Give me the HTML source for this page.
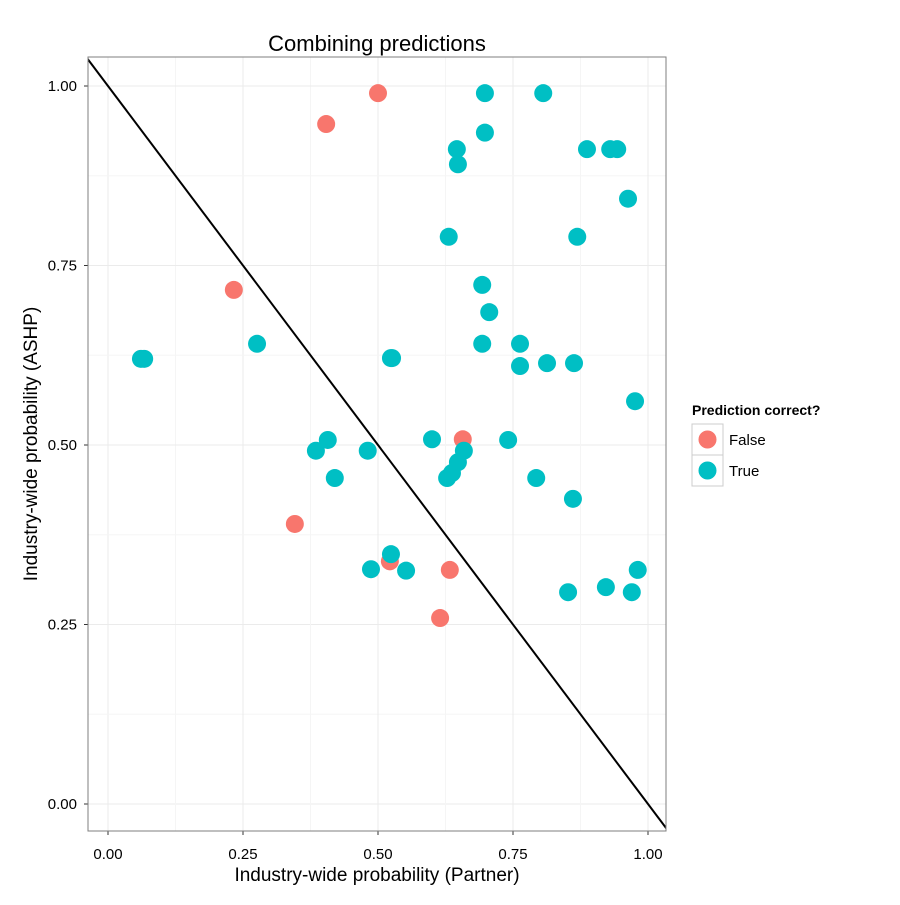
<!DOCTYPE html>
<html><head><meta charset="utf-8"><style>
body{margin:0;background:#fff;}
svg{font-family:"Liberation Sans",Arial,sans-serif;}
</style></head><body>
<svg id="chart" width="900" height="900"></svg>
<script>
const falseX=[0.50,0.404,0.233,0.346,0.522,0.633,0.615,0.657];
const falseY=[0.99,0.947,0.716,0.390,0.338,0.326,0.259,0.508];
const trueX=[0.061,0.067,0.276,0.526,0.524,0.407,0.385,0.420,0.481,0.487,0.524,0.552,0.600,0.628,0.637,0.648,0.659,0.698,0.806,0.698,0.646,0.648,0.887,0.930,0.943,0.963,0.631,0.869,0.693,0.706,0.693,0.763,0.763,0.813,0.863,0.976,0.741,0.793,0.861,0.852,0.922,0.970,0.981];
const trueY=[0.620,0.620,0.641,0.621,0.621,0.507,0.492,0.454,0.492,0.327,0.348,0.325,0.508,0.454,0.461,0.476,0.492,0.990,0.990,0.935,0.912,0.891,0.912,0.912,0.912,0.843,0.790,0.790,0.723,0.685,0.641,0.641,0.610,0.614,0.614,0.561,0.507,0.454,0.425,0.295,0.302,0.295,0.326];
const ticks=[0,0.25,0.5,0.75,1];
const tickLabels=["0.00","0.25","0.50","0.75","1.00"];
const L=88,R=666,T=57,B=831;
const sx=v=>108+v*540, sy=v=>804-v*718;
const ns="http://www.w3.org/2000/svg", svg=document.getElementById('chart');
function mk(tag,attrs,parent){const e=document.createElementNS(ns,tag);for(const k in attrs)e.setAttribute(k,attrs[k]);(parent||svg).appendChild(e);return e;}
const defs=mk('defs',{});
const cp=mk('clipPath',{id:'panel'},defs);
mk('rect',{x:L,y:T,width:R-L,height:B-T},cp);
const grid=mk('g',{});


for(let i=0;i<ticks.length;i++){
  const v=ticks[i];
  mk('line',{x1:sx(v),x2:sx(v),y1:T,y2:B,stroke:'#ebebeb','stroke-width':1},grid);
  mk('line',{x1:L,x2:R,y1:sy(v),y2:sy(v),stroke:'#ebebeb','stroke-width':1},grid);
  if(i<ticks.length-1){const m=v+0.125;
    mk('line',{x1:sx(m),x2:sx(m),y1:T,y2:B,stroke:'#f5f5f5','stroke-width':1},grid);
    mk('line',{x1:L,x2:R,y1:sy(m),y2:sy(m),stroke:'#f5f5f5','stroke-width':1},grid);}
  const xt=mk('text',{x:sx(v),y:859,'text-anchor':'middle','font-size':15,fill:'#000'});
  xt.textContent=tickLabels[i];
  
  
  mk('line',{x1:sx(v),x2:sx(v),y1:B,y2:B+4,stroke:'#333'});
  const yt=mk('text',{x:77,y:sy(v)+5,'text-anchor':'end','font-size':15,fill:'#000'});
  yt.textContent=tickLabels[i];
  
  
  mk('line',{x1:L-4,x2:L,y1:sy(v),y2:sy(v),stroke:'#333'});
}
const pts=mk('g',{});


falseX.forEach((x,i)=>{const c=mk('circle',{cx:sx(x),cy:sy(falseY[i]),r:9,fill:'#F8766D'},pts);
  
  });
trueX.forEach((x,i)=>{const c=mk('circle',{cx:sx(x),cy:sy(trueY[i]),r:9,fill:'#00BFC4'},pts);
  
  });
const ln=mk('line',{x1:sx(-0.05),y1:sy(1.05),x2:sx(1.05),y2:sy(-0.05),stroke:'#000','stroke-width':2,'clip-path':'url(#panel)'});


const bd=mk('rect',{x:L,y:T,width:R-L,height:B-T,fill:'none',stroke:'#7f7f7f','stroke-width':1});


</script>
<svg width="900" height="900" style="position:absolute;left:0;top:0">
<text x="377" y="51" text-anchor="middle" font-size="22">Combining predictions</text>
<text x="377" y="881" text-anchor="middle" font-size="19">Industry-wide probability (Partner)</text>
<text transform="translate(37,444) rotate(-90)" text-anchor="middle" font-size="19">Industry-wide probability (ASHP)</text>
<g>
<text x="692" y="415" font-size="14" font-weight="bold">Prediction correct?</text>
<g>
<rect x="692" y="424" width="31" height="31" fill="#fff" stroke="#ccc"/>
<circle cx="707.5" cy="439.5" r="9" fill="#F8766D"/>
<text x="729" y="445" font-size="15">False</text></g>
<g>
<rect x="692" y="455" width="31" height="31" fill="#fff" stroke="#ccc"/>
<circle cx="707.5" cy="470.5" r="9" fill="#00BFC4"/>
<text x="729" y="476" font-size="15">True</text></g>
</g>
</svg>
</body></html>
